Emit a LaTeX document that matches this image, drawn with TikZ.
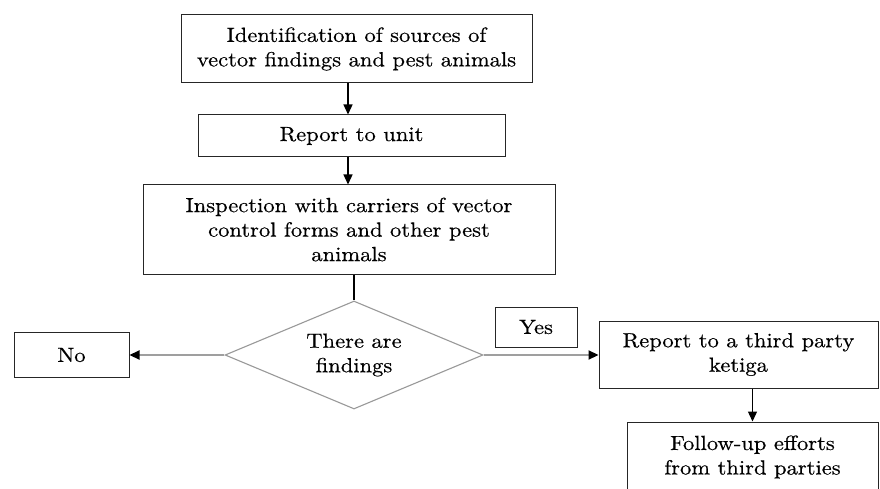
\documentclass[tikz,border=0pt]{standalone}
\usepackage{fontspec}
\setmainfont{lmroman10-regular.otf}[FakeStretch=1.1,FakeBold=0.4]
\usetikzlibrary{shapes.geometric,arrows.meta}
\begin{document}
\begin{tikzpicture}[x=1pt,y=-1pt,
  txt/.style={font=\fontsize{20.5}{24.5}\selectfont},
  box/.style={txt,draw=black!85,line width=1pt,rectangle,inner sep=0pt,align=center},
  dec/.style={txt,draw=gray!80,line width=1.1pt,diamond,inner sep=0pt,aspect=2.39,align=center},
  arr/.style={line width=1.3pt,-{Triangle[length=10pt,width=9pt]}},
  garr/.style={draw=gray!75,line width=2.2pt,-{Triangle[length=10pt,width=9pt,fill=black,color=black]}}]
\useasboundingbox (0,0) rectangle (880,489);
\clip (0,0) rectangle (880,489);
\fill[white] (0,0) rectangle (880,489);
\node[box,minimum width=351,minimum height=68] (a) at (356.5,49) {Identification of sources of\\vector findings and pest animals};
\node[box,minimum width=307,minimum height=42] (b) at (351.5,136) {Report to unit};
\node[box,minimum width=412,minimum height=89] (c) at (349,229.5) {Inspection with carriers of vector\\control forms and other pest\\animals};
\node[dec,minimum width=258,minimum height=108] (d) at (354,355) {There are\\findings};
\node[box,minimum width=115,minimum height=45] (no) at (71.5,355) {No};
\node[box,minimum width=82,minimum height=40] (yes) at (536,327) {Yes};
\node[box,minimum width=279,minimum height=67] (r) at (738.5,354.5) {Report to a third party\\ketiga};
\node[box,minimum width=251,minimum height=70] (f) at (752.5,457) {Follow-up efforts\\from third parties};
\draw[arr] (a.south -| 348,0) -- (b.north -| 348,0);
\draw[arr] (b.south -| 348,0) -- (c.north -| 348,0);
\draw[line width=1.2pt] (c.south -| d.north) -- (d.north);
\draw[garr] (d.west) -- (d.west -| no.east);
\draw[garr] (d.east) -- (d.east -| r.west);
\draw[arr] (r.south -| f.north) -- (f.north);
\end{tikzpicture}
\end{document}
